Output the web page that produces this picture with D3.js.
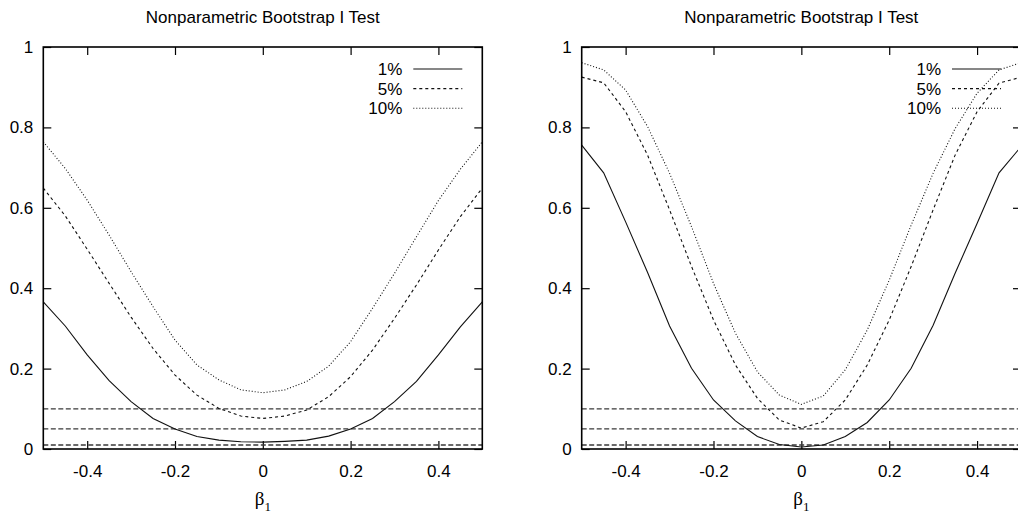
<!DOCTYPE html>
<html>
<head>
<meta charset="utf-8">
<script src="https://cdn.jsdelivr.net/npm/d3@7"></script>
<style>
  body { margin: 0; background: #fff; }
  svg { display: block; }
  text { font-family: "Liberation Sans", Arial, sans-serif; fill: #000; }
</style>
</head>
<body>
<div id="chart"></div>
<script>
// values
const betaValues = [-0.5, -0.45, -0.4, -0.35, -0.3, -0.25, -0.2, -0.15, -0.1, -0.05, 0,
                    0.05, 0.1, 0.15, 0.2, 0.25, 0.3, 0.35, 0.4, 0.45, 0.5];

const leftP1  = [0.366, 0.306, 0.234, 0.170, 0.118, 0.076, 0.050, 0.031, 0.022, 0.018, 0.017,
                 0.019, 0.022, 0.032, 0.050, 0.076, 0.118, 0.168, 0.234, 0.304, 0.366];
const leftP5  = [0.649, 0.580, 0.497, 0.412, 0.328, 0.250, 0.184, 0.134, 0.101, 0.082, 0.076,
                 0.082, 0.097, 0.130, 0.180, 0.246, 0.325, 0.408, 0.495, 0.578, 0.649];
const leftP10 = [0.764, 0.698, 0.619, 0.532, 0.441, 0.354, 0.271, 0.209, 0.172, 0.147, 0.140,
                 0.147, 0.168, 0.206, 0.267, 0.350, 0.437, 0.528, 0.618, 0.696, 0.764];

const rightP1  = [0.756, 0.687, 0.565, 0.439, 0.306, 0.201, 0.122, 0.070, 0.031, 0.011, 0.005,
                  0.010, 0.031, 0.066, 0.122, 0.201, 0.308, 0.437, 0.561, 0.687, 0.752];
const rightP5  = [0.925, 0.911, 0.839, 0.731, 0.595, 0.454, 0.321, 0.209, 0.126, 0.072, 0.052,
                  0.068, 0.122, 0.209, 0.321, 0.454, 0.595, 0.731, 0.839, 0.910, 0.925];
const rightP10 = [0.961, 0.943, 0.893, 0.802, 0.686, 0.553, 0.412, 0.288, 0.192, 0.134, 0.111,
                  0.132, 0.197, 0.296, 0.420, 0.557, 0.686, 0.797, 0.885, 0.943, 0.961];

const nominalLevels = [0.01, 0.05, 0.1];
const legendLabels = ["1%", "5%", "10%"];
const xTicks = [-0.4, -0.2, 0, 0.2, 0.4];
const yTicks = [0, 0.2, 0.4, 0.6, 0.8, 1];
const panelTitle = "Nonparametric Bootstrap I Test";

const WIDTH = 1018, HEIGHT = 521;
const TOP = 47, BOTTOM = 449;
const TICK = 8;
const dashes = [null, "3,3", "1,2"];

const svg = d3.select("#chart").append("svg")
    .attr("width", WIDTH)
    .attr("height", HEIGHT);

// plain hyphen minus like gnuplot
const fmt = d => String(+d.toFixed(1));

// one gnuplot-like panel
function drawPanel(left, right, series) {
    const x = d3.scaleLinear().domain([-0.5, 0.5]).range([left, right]);
    const y = d3.scaleLinear().domain([0, 1]).range([BOTTOM, TOP]);
    const g = svg.append("g");

    // axes with inward ticks
    g.append("g")
        .attr("transform", `translate(${left},0)`)
        .call(d3.axisLeft(y).tickValues(yTicks).tickSizeInner(-TICK).tickSizeOuter(0).tickPadding(10).tickFormat(fmt));
    g.append("g")
        .attr("transform", `translate(${right},0)`)
        .call(d3.axisRight(y).tickValues(yTicks).tickSizeInner(-TICK).tickSizeOuter(0).tickFormat(""));
    g.append("g")
        .attr("transform", `translate(0,${BOTTOM})`)
        .call(d3.axisBottom(x).tickValues(xTicks).tickSizeInner(-TICK).tickSizeOuter(0).tickPadding(16).tickFormat(fmt));
    g.append("g")
        .attr("transform", `translate(0,${TOP})`)
        .call(d3.axisTop(x).tickValues(xTicks).tickSizeInner(-TICK).tickSizeOuter(0).tickFormat(""));

    g.selectAll(".domain").remove();
    g.selectAll(".tick line").attr("stroke", "#000").attr("stroke-width", 1.2);
    g.selectAll(".tick text")
        .style("font-family", "Liberation Sans, Arial, sans-serif")
        .attr("font-size", 17)
        .attr("fill", "#000");

    // nominal level reference lines
    g.selectAll(".level")
        .data(nominalLevels)
        .enter().append("line")
        .attr("x1", left).attr("x2", right)
        .attr("y1", d => y(d)).attr("y2", d => y(d))
        .attr("stroke", "#3a3a3a")
        .attr("stroke-width", 1.3)
        .attr("stroke-dasharray", "5,2.5");

    const line = d3.line()
        .x((d, i) => x(betaValues[i]))
        .y(d => y(d));

    series.forEach((s, i) => {
        g.append("path")
            .attr("d", line(s))
            .attr("fill", "none")
            .attr("stroke", "#111")
            .attr("stroke-width", 1.1)
            .attr("stroke-dasharray", dashes[i]);
    });

    // frame
    g.append("rect")
        .attr("x", left).attr("y", TOP)
        .attr("width", right - left).attr("height", BOTTOM - TOP)
        .attr("fill", "none")
        .attr("stroke", "#000")
        .attr("stroke-width", 1.6);

    // legend
    legendLabels.forEach((lab, i) => {
        const ly = 69 + i * 19.6;
        g.append("text")
            .attr("x", right - 80).attr("y", ly + 6)
            .attr("text-anchor", "end")
            .attr("font-size", 17)
            .text(lab);
        g.append("line")
            .attr("x1", right - 69).attr("x2", right - 20)
            .attr("y1", ly).attr("y2", ly)
            .attr("stroke", "#111")
            .attr("stroke-width", 1.1)
            .attr("stroke-dasharray", dashes[i]);
    });

    // title
    g.append("text")
        .attr("x", (left + right) / 2).attr("y", 22.5)
        .attr("text-anchor", "middle")
        .attr("font-size", 17)
        .text(panelTitle);

    // x label: beta sub 1
    const xl = g.append("text")
        .attr("x", (left + right) / 2).attr("y", 505)
        .attr("text-anchor", "middle")
        .style("font-family", "Liberation Serif, Times New Roman, serif")
        .attr("font-size", 19);
    xl.append("tspan").text("β");
    xl.append("tspan").attr("dy", 6).attr("font-size", 13).text("1");
}

drawPanel(43.3, 482.3, [leftP1, leftP5, leftP10]);
drawPanel(581.7, 1021, [rightP1, rightP5, rightP10]);
</script>
</body>
</html>
